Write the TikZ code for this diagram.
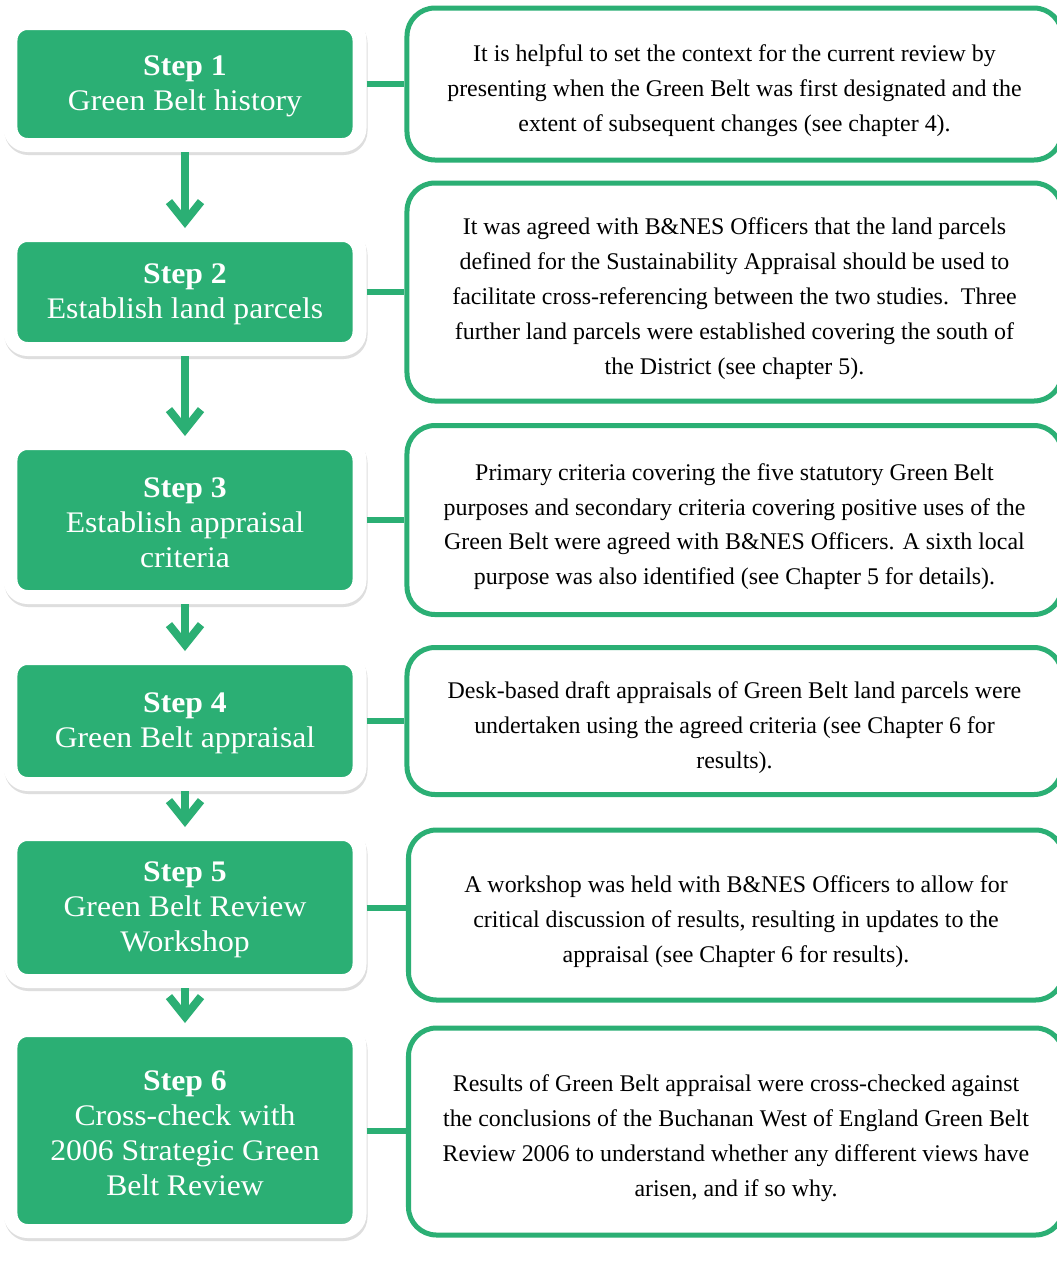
\documentclass[tikz,border=0pt]{standalone}
\usepackage{fontspec}
\setmainfont{Liberation Serif}
\newfontfamily\stepfont{Liberation Serif}[FakeStretch=1.06]
\usepackage{xcolor}
\usetikzlibrary{arrows.meta}
\definecolor{beltgreen}{RGB}{43,175,116}

\begin{document}
\begin{tikzpicture}[x=1bp,y=-1bp,
    stepbox/.style={fill=beltgreen, draw=white, line width=14bp, rounded corners=17bp,
      minimum width=349bp, text width=330bp, align=flush center, inner sep=0pt, text=white,
      font=\stepfont\fontsize{30}{35}\selectfont,
      execute at begin node={\rule{0pt}{25bp}},
      preaction={draw=black!13, fill=black!13, transform canvas={xshift=1bp,yshift=-3bp}}},
    notebox/.style={draw=beltgreen, fill=white, line width=5bp, rounded corners=28bp,
      minimum width=655bp, text width=640bp, inner sep=0pt, align=flush center,
      font=\fontsize{24}{35}\selectfont,
      execute at begin node={\rule{0pt}{30bp}}},
    flow/.style={draw=beltgreen, line width=8bp, -{Straight Barb[length=20bp,width=32bp]}},
    link/.style={draw=beltgreen, line width=6bp}]
    \fill[white] (0,0) rectangle (1057,1282);
    \useasboundingbox (0,0) rectangle (1057,1282);
    % steps
    \node[stepbox, minimum height=122bp] (s1) at (185,84) {\textbf{Step 1}\\ Green Belt history};
    \node[stepbox, minimum height=114bp] (s2) at (185,292) {\textbf{Step 2}\\ Establish land parcels};
    \node[stepbox, minimum height=154bp] (s3) at (185,520) {\textbf{Step 3}\\ Establish appraisal\\ criteria};
    \node[stepbox, minimum height=126bp] (s4) at (185,721) {\textbf{Step 4}\\ Green Belt appraisal};
    \node[stepbox, minimum height=147bp] (s5) at (185,907.5) {\textbf{Step 5}\\ Green Belt Review\\ Workshop};
    \node[stepbox, minimum height=201bp] (s6) at (185,1130.5) {\textbf{Step 6}\\ Cross-check with\\ 2006 Strategic Green\\ Belt Review};
    % notes
    \node[notebox, minimum height=152bp] (r1) at (734.5,84) {It is helpful to set the context for the current review by\\
      presenting when the Green Belt was first designated and the\\ extent of subsequent changes (see chapter 4).};
    \node[notebox, minimum height=218bp] (r2) at (734.5,292) {It was agreed with B\&NES Officers that the land parcels\\
      defined for the Sustainability Appraisal should be used to\\ facilitate cross-referencing between the two studies.\ \ Three\\
      further land parcels were established covering the south of\\ the District (see chapter 5).};
    \node[notebox, minimum height=189bp] (r3) at (734.5,520) {Primary criteria covering the five statutory Green Belt\\
      purposes and secondary criteria covering positive uses of the\\ Green Belt were agreed with B\&NES Officers. A sixth local\\
      purpose was also identified (see Chapter 5 for details).};
    \node[notebox, minimum height=147bp] (r4) at (734.5,721) {Desk-based draft appraisals of Green Belt land parcels were\\
      undertaken using the agreed criteria (see Chapter 6 for\\ results).};
    \node[notebox, minimum height=170bp] (r5) at (736,915) {A workshop was held with B\&NES Officers to allow for\\
      critical discussion of results, resulting in updates to the\\ appraisal (see Chapter 6 for results).};
    \node[notebox, minimum height=207bp] (r6) at (736,1131.5) {Results of Green Belt appraisal were cross-checked against\\
      the conclusions of the Buchanan West of England Green Belt\\ Review 2006 to understand whether any different views have\\
      arisen, and if so why.};
    % arrows and links
    \foreach \a/\b in {s1/s2,s2/s3,s3/s4,s4/s5,s5/s6}
      \draw[flow] (\a) -- (\b);
    \foreach \i in {1,...,6}
      \draw[link] (s\i.east) -- (s\i.east -| r\i.west);
\end{tikzpicture}
\end{document}
